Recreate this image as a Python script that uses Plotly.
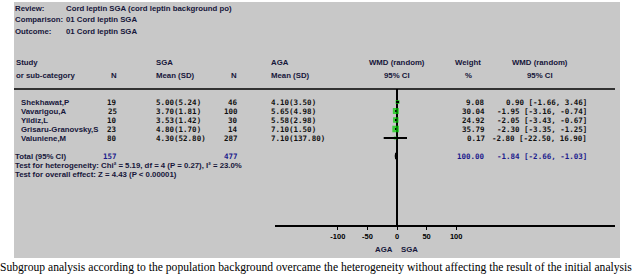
import plotly.graph_objects as go

# ---------------- data ----------------
studies = ["Shekhawat,P", "Vavarigou,A", "Yildiz,L", "Grisaru-Granovsky,S", "Valuniene,M"]
sga_n = [19, 25, 10, 23, 80]
sga_mean = [5.00, 3.70, 3.53, 4.80, 4.30]
sga_sd = [5.24, 1.81, 1.42, 1.70, 52.80]
aga_n = [46, 100, 30, 14, 287]
aga_mean = [4.10, 5.65, 5.58, 7.10, 7.10]
aga_sd = [3.50, 4.98, 2.98, 1.50, 137.80]
weights = [9.08, 30.04, 24.92, 35.79, 0.17]
wmd = [0.90, -1.95, -2.05, -2.30, -2.80]
ci_lo = [-1.66, -3.16, -3.43, -3.35, -22.50]
ci_hi = [3.46, -0.74, -0.67, -1.25, 16.90]

total_sga_n = 157
total_aga_n = 477
total_weight = 100.00
total_wmd = -1.84
total_lo = -2.66
total_hi = -1.03

x_ticks = [-100, -50, 0, 50, 100]

review_lines = [("Review:", "Cord leptin SGA (cord leptin background po)"),
                ("Comparison:", "01 Cord leptin SGA"),
                ("Outcome:", "01 Cord leptin SGA")]
het_text = "Test for heterogeneity: Chi\u00b2 = 5.19, df = 4 (P = 0.27), I\u00b2 = 23.0%"
overall_text = "Test for overall effect: Z = 4.43 (P < 0.00001)"
caption = ("Subgroup analysis according to the population background overcame the "
           "heterogeneity without affecting the result of the initial analysis")

# ---------------- layout helpers ----------------
W, H = 633, 276
def px(x):
    return x / W
def py(y):
    return 1 - y / H

SANS = "Liberation Sans Narrow, Arial Narrow, Liberation Sans, Arial"
LABEL_FONT = dict(family=SANS, size=7.8, color="#16163a", weight="bold")
NUM_FONT = dict(family="DejaVu Sans Mono, Liberation Mono, monospace", size=7.5,
                color="#101010", weight="bold")
BLUE = "#1a1a8c"

row_y = list(range(len(studies)))  # row indices
total_row = 6
het_row = 7
overall_row = 8

fig = go.Figure()

# study squares
sizes = [3 + 0.1 * w for w in weights]
fig.add_trace(go.Scatter(x=wmd, y=row_y, mode="markers",
                         marker=dict(symbol="square", size=sizes, color="#00d000",
                                     line=dict(width=0)),
                         hoverinfo="skip", showlegend=False))
# CI lines (drawn above squares)
cx, cy = [], []
for lo, hi, r in zip(ci_lo, ci_hi, row_y):
    cx += [lo, hi, None]
    cy += [r, r, None]
fig.add_trace(go.Scatter(x=cx, y=cy, mode="lines", line=dict(color="black", width=2),
                         hoverinfo="skip", showlegend=False))
# total diamond
dh = 0.35
fig.add_trace(go.Scatter(x=[total_lo, total_wmd, total_hi, total_wmd, total_lo],
                         y=[total_row, total_row - dh, total_row, total_row + dh, total_row],
                         mode="lines", fill="toself", fillcolor="black",
                         line=dict(color="black", width=1.5),
                         hoverinfo="skip", showlegend=False))

ann = []
def add(x, y, text, xanchor="left", font=LABEL_FONT, xref="paper", yref="paper", color=None):
    f = dict(font)
    if color:
        f["color"] = color
    ann.append(dict(x=x, y=y, xref=xref, yref=yref, text=text, showarrow=False,
                    xanchor=xanchor, yanchor="middle", font=f, borderpad=0, borderwidth=0))

# review block
for i, (lab, val) in enumerate(review_lines):
    yy = py(8 + 12 * i)
    add(px(15), yy, lab)
    add(px(66), yy, val)

# column headers
add(px(16), py(62), "Study")
add(px(16), py(75), "or sub-category")
add(px(117), py(75), "N", xanchor="right")
add(px(156), py(62), "SGA")
add(px(156), py(75), "Mean (SD)")
add(px(237), py(75), "N", xanchor="right")
add(px(271), py(62), "AGA")
add(px(271), py(75), "Mean (SD)")
add(px(397), py(62), "WMD (random)", xanchor="center")
add(px(397), py(75), "95% CI", xanchor="center")
add(px(468), py(62), "Weight", xanchor="center")
add(px(468), py(75), "%", xanchor="center")
add(px(540), py(62), "WMD (random)", xanchor="center")
add(px(540), py(75), "95% CI", xanchor="center")

# study rows
for i, r in enumerate(row_y):
    add(px(21), r, studies[i], yref="y")
    add(px(117), r, str(sga_n[i]), xanchor="right", font=NUM_FONT, yref="y")
    add(px(156), r, f"{sga_mean[i]:.2f}({sga_sd[i]:.2f})", font=NUM_FONT, yref="y")
    add(px(238), r, str(aga_n[i]), xanchor="right", font=NUM_FONT, yref="y")
    add(px(271), r, f"{aga_mean[i]:.2f}({aga_sd[i]:.2f})", font=NUM_FONT, yref="y")
    add(px(485), r, f"{weights[i]:.2f}", xanchor="right", font=NUM_FONT, yref="y")
    add(px(587), r, f"{wmd[i]:.2f} [{ci_lo[i]:.2f}, {ci_hi[i]:.2f}]", xanchor="right",
        font=NUM_FONT, yref="y")

# total rows
add(px(15), total_row, "Total (95% CI)", yref="y")
add(px(117), total_row, str(total_sga_n), xanchor="right", font=NUM_FONT, yref="y", color=BLUE)
add(px(238), total_row, str(total_aga_n), xanchor="right", font=NUM_FONT, yref="y", color=BLUE)
add(px(485), total_row, f"{total_weight:.2f}", xanchor="right", font=NUM_FONT, yref="y", color=BLUE)
add(px(587), total_row, f"{total_wmd:.2f} [{total_lo:.2f}, {total_hi:.2f}]", xanchor="right",
    font=NUM_FONT, yref="y", color=BLUE)
add(px(15), het_row, het_text, yref="y")
add(px(15), overall_row, overall_text, yref="y")

# favours labels
for txt, anchor, shift in (("AGA", "right", -4), ("SGA", "left", 4)):
    ann.append(dict(x=0, y=py(249), xref="x", yref="paper", text=txt, showarrow=False,
                    xanchor=anchor, yanchor="middle", xshift=shift, font=LABEL_FONT,
                    borderpad=0, borderwidth=0))

# caption
ann.append(dict(x=0, y=py(267), xref="paper", yref="paper", text=caption, showarrow=False,
                xanchor="left", yanchor="middle", borderpad=0, borderwidth=0,
                font=dict(family="Liberation Serif, Times New Roman, serif", size=11.6,
                          color="black")))

shapes = [
    dict(type="rect", xref="paper", yref="paper", x0=px(14), x1=px(620), y0=py(258), y1=py(2),
         fillcolor="#c8c8c8", line=dict(width=0), layer="below"),
    dict(type="line", xref="paper", yref="paper", x0=px(14), x1=px(615), y0=py(89), y1=py(89),
         line=dict(color="black", width=1.5)),
]

# axis geometry: 0 at px 397, 0.5915 px per unit
L, R = 275, 615
scale = 0.5915
x0px = 397
xr = [(L - x0px) / scale, (R - x0px) / scale]
top_px, bot_px = 89, 225
row0_px, dy = 102, 9
yr = [(bot_px - row0_px) / dy, (top_px - row0_px) / dy]

fig.update_layout(
    width=W, height=H, margin=dict(l=0, r=0, t=0, b=0),
    paper_bgcolor="white", plot_bgcolor="rgba(0,0,0,0)",
    xaxis=dict(domain=[px(L), px(R)], range=xr, tickvals=x_ticks,
               ticktext=[str(t) for t in x_ticks], showgrid=False,
               zeroline=True, zerolinecolor="black", zerolinewidth=1.5,
               showline=True, linecolor="black", linewidth=1.5,
               ticks="outside", ticklen=3, tickcolor="black", tickwidth=1,
               tickfont=dict(family=SANS, size=7.5, color="black", weight="bold")),
    yaxis=dict(domain=[py(bot_px), py(top_px)], range=yr, visible=False),
    shapes=shapes, annotations=ann,
)

fig.write_html("out.html", config={"displayModeBar": False},
               post_script="document.body.style.margin='0';")
